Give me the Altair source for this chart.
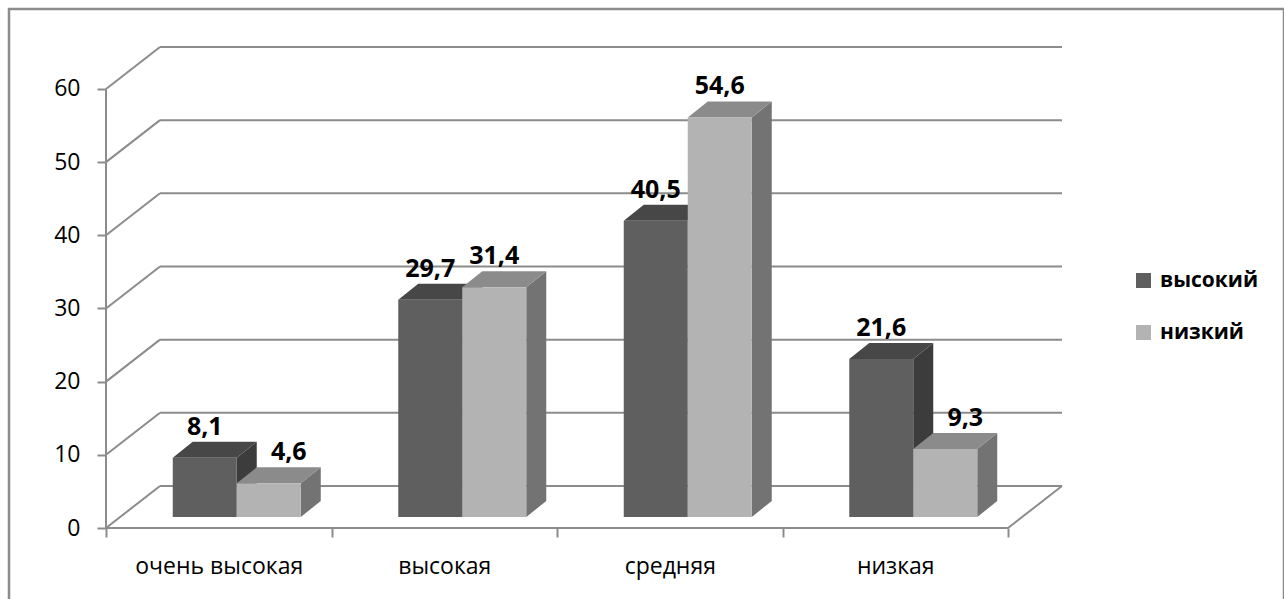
import json
import altair as alt
import pandas as pd

# ---------------- data ----------------
categories = ["очень высокая", "высокая", "средняя", "низкая"]
series = ["высокий", "низкий"]
vals_high = [8.1, 29.7, 40.5, 21.6]
vals_low = [4.6, 31.4, 54.6, 9.3]
y_ticks = [0, 10, 20, 30, 40, 50, 60]

# ---------------- styles ----------------
front_colors = ["#5f5f5f", "#b3b3b3"]
top_colors = ["#474747", "#8b8b8b"]
side_colors = ["#3c3c3c", "#737373"]
GRID = "#8c8c8c"
FONT = "Open Sans"

# ---------------- geometry ----------------
PX_X = 225.5      # px per category
PX_Y = 7.317      # px per value unit
W, H = 1275, 620
PAD = 9
X0_PX, Y0_PX = 106, 528   # front axis origin on page
x_dom = [(PAD - X0_PX) / PX_X, (PAD + W - X0_PX) / PX_X]
y_dom = [-(PAD + H - Y0_PX) / PX_Y, (Y0_PX - PAD) / PX_Y]

dxu, dyu = 54 / PX_X, 42 / PX_Y          # back wall depth
bxs, bys = 18 / PX_X, 11 / PX_Y          # bar base depth shift
dxb, dyb = 20 / PX_X, 16 / PX_Y          # bar depth
bw = 64 / PX_X                           # bar width
ncat = len(categories)

xs = alt.Scale(domain=x_dom, nice=False, zero=False)
ys = alt.Scale(domain=y_dom, nice=False, zero=False)

label_expr = json.dumps(categories + [""], ensure_ascii=False) + "[datum.value]"
x_axis = alt.Axis(values=list(range(ncat + 1)), domain=False, grid=False,
                  tickSize=9, tickColor=GRID, tickWidth=2,
                  labelExpr=label_expr, labelOffset=PX_X / 2,
                  labelFont=FONT, labelFontSize=23, labelColor="black",
                  labelPadding=18, labelFlush=False, labelOverlap=False,
                  offset=-(PAD + H - Y0_PX), title="")
y_axis = alt.Axis(values=y_ticks, domain=False, grid=False,
                  tickSize=9, tickColor=GRID, tickWidth=2,
                  labelFont=FONT, labelFontSize=23, labelColor="black",
                  labelPadding=17, offset=-(X0_PX - PAD), title="")

X = alt.X("x:Q", scale=xs, axis=x_axis)
Y = alt.Y("y:Q", scale=ys, axis=y_axis)

# ---------------- gridlines / frame edges ----------------
back = pd.DataFrame({"x": dxu, "x2": ncat + dxu,
                     "y": [v + dyu for v in y_ticks]})
edges = []
for v in y_ticks:
    edges.append({"x": 0, "x2": dxu, "y": v, "y2": v + dyu})
edges.append({"x": ncat, "x2": ncat + dxu, "y": 0, "y2": dyu})
edges.append({"x": 0, "x2": 0, "y": 0, "y2": max(y_ticks)})
edges.append({"x": 0, "x2": ncat, "y": 0, "y2": 0})
edges = pd.DataFrame(edges)

# ---------------- bars ----------------
fronts, tops, sides, labels = [], [], [], []
for i, cat in enumerate(categories):
    vals = [vals_high[i], vals_low[i]]
    for j, s in enumerate(series):
        v = vals[j]
        c = i + 0.5
        x0 = c + bxs + (j - 1) * bw
        x1 = x0 + bw
        base = bys
        top = bys + v
        bid = f"{i}-{j}"
        fronts.append({"x": x0, "x2": x1, "y": base, "y2": top, "series": s})
        tops.append({"bid": bid, "y": top, "x": x0, "x2": x1, "col": top_colors[j]})
        tops.append({"bid": bid, "y": top + dyb, "x": x0 + dxb, "x2": x1 + dxb, "col": top_colors[j]})
        sides.append({"bid": bid, "x": x1, "y": base, "y2": top, "col": side_colors[j]})
        sides.append({"bid": bid, "x": x1 + dxb, "y": base + dyb, "y2": top + dyb, "col": side_colors[j]})
        shift = dxb if (j == 1 and vals[1] < vals[0]) else 0
        labels.append({"x": (x0 + x1) / 2 + shift, "y": top + dyb,
                       "txt": f"{v:.1f}".replace(".", ",")})

fronts = pd.DataFrame(fronts)
tops = pd.DataFrame(tops)
sides = pd.DataFrame(sides)
labels = pd.DataFrame(labels)

l_back = alt.Chart(back).mark_rule(color=GRID, strokeWidth=2).encode(
    x=X, x2="x2:Q", y=Y)
l_edges = alt.Chart(edges).mark_rule(color=GRID, strokeWidth=2).encode(
    x=X, x2="x2:Q", y=Y, y2="y2:Q")
l_sides = alt.Chart(sides).mark_area(orient="vertical").encode(
    x=X, y=Y, y2="y2:Q", detail="bid:N",
    fill=alt.Fill("col:N", scale=None))
l_tops = alt.Chart(tops).mark_area(orient="horizontal").encode(
    y=Y, x=X, x2="x2:Q", detail="bid:N",
    fill=alt.Fill("col:N", scale=None))
l_fronts = alt.Chart(fronts).mark_rect().encode(
    x=X, x2="x2:Q", y=Y, y2="y2:Q",
    color=alt.Color("series:N",
                    scale=alt.Scale(domain=series, range=front_colors),
                    legend=alt.Legend(title=None, orient="none",
                                      legendX=1124, legendY=261,
                                      symbolType="square", symbolSize=225,
                                      symbolStrokeWidth=0, symbolOpacity=1,
                                      labelFont=FONT, labelFontSize=21,
                                      labelFontWeight="bold", labelColor="black",
                                      labelOffset=6, rowPadding=30, padding=0)))
l_labels = alt.Chart(labels).mark_text(
    font=FONT, fontSize=25, fontWeight="bold", color="black",
    baseline="alphabetic", align="center", dy=-7).encode(
    x=X, y=Y, text="txt:N")

chart = alt.layer(l_back, l_edges, l_sides, l_tops, l_fronts, l_labels).properties(
    width=W, height=H,
    padding={"left": PAD, "top": PAD, "right": 0, "bottom": 0},
    autosize=alt.AutoSizeParams(type="none"),
    background="white",
).configure_view(stroke=GRID, strokeWidth=2.5)

chart.save("out.html", embed_options={"renderer": "svg", "actions": False})
